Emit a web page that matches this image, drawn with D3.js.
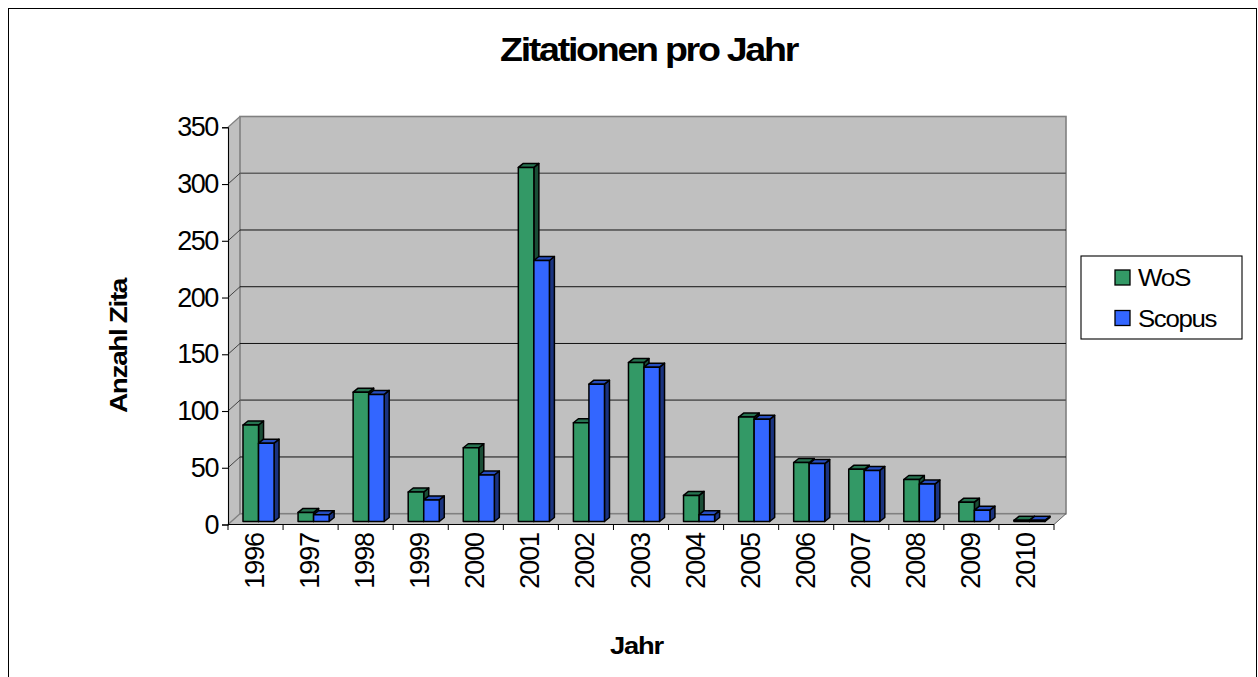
<!DOCTYPE html>
<html><head><meta charset="utf-8">
<style>html,body{margin:0;background:#fff;overflow:hidden}svg{display:block}text{font-family:"Liberation Sans",Arial,sans-serif;fill:#000}</style>
<script src="https://cdn.jsdelivr.net/npm/d3@7/dist/d3.min.js"></script></head>
<body><svg id="c" width="1258" height="677"></svg>
<script>
const years=["1996","1997","1998","1999","2000","2001","2002","2003","2004","2005","2006","2007","2008","2009","2010"];
const wos=[85,8,114,26,65,312,87,140,23,92,52,46,37,17,1];
const scopus=[69,6,112,19,41,230,121,136,6,90,51,45,33,10,1];
const seriesNames=["WoS","Scopus"];
const yTicks=[0,50,100,150,200,250,300,350];
const thickGrid=[100,300];

const svg=d3.select("#c");
const DX=12,DY=-10.8,bx=3,by=-3,bdx=5,bdy=-4;
const x=d3.scaleBand().domain(years).range([228,1054]);
const y=d3.scaleLinear().domain([0,350]).range([524.5,127.3]);
const inner=d3.scaleBand().domain(seriesNames).range([12,x.bandwidth()-12]);
const fills=[{f:"#339966",t:"#267350",s:"#1a4d36"},{f:"#3366ff",t:"#264dbf",s:"#1a3380"}];

svg.append("rect").attr("x",8.5).attr("y",8.5).attr("width",1248).attr("height",690).attr("fill","#fff").attr("stroke","#000").attr("stroke-width",1);

const L=x.range()[0],R=x.range()[1],y0=y(0),yT=y(350);
const poly=p=>p.map(d=>d.join(",")).join(" ");
svg.append("polygon").attr("points",poly([[L,yT],[L+DX,yT+DY],[L+DX,y0+DY],[L,y0]])).attr("fill","#c0c0c0");
svg.append("polygon").attr("points",poly([[L,y0],[L+DX,y0+DY],[R+DX,y0+DY],[R,y0]])).attr("fill","#c0c0c0");
svg.append("rect").attr("x",L+DX).attr("y",yT+DY).attr("width",R-L).attr("height",y0-yT).attr("fill","#c0c0c0").attr("stroke","#808080").attr("stroke-width",1.6);
svg.append("line").attr("x1",L).attr("y1",yT).attr("x2",L+DX).attr("y2",yT+DY).attr("stroke","#808080").attr("stroke-width",1.2);
svg.append("line").attr("x1",L).attr("y1",y0).attr("x2",L+DX).attr("y2",y0+DY).attr("stroke","#808080").attr("stroke-width",1.4);
svg.append("line").attr("x1",R).attr("y1",y0).attr("x2",R+DX).attr("y2",y0+DY).attr("stroke","#404040").attr("stroke-width",.8);
yTicks.filter(v=>v>0&&v<350).forEach(v=>{
  const thick=thickGrid.includes(v);
  svg.append("line").attr("x1",L+DX).attr("x2",R+DX).attr("y1",y(v)+DY).attr("y2",y(v)+DY)
    .attr("stroke",thick?"#606060":"#111").attr("stroke-width",thick?1.7:1);
  svg.append("line").attr("x1",L).attr("x2",L+DX).attr("y1",y(v)).attr("y2",y(v)+DY).attr("stroke","#222").attr("stroke-width",.8);
});
const scale=(y(0)-y(1));
years.forEach((yr,i)=>{
  [wos,scopus].forEach((vals,k)=>{
    const c=fills[k],v=vals[i];
    const X=x(yr)+inner(seriesNames[k])+bx,W=inner.bandwidth(),B=y0+by,T=B-v*scale;
    const g=svg.append("g").attr("stroke","#000").attr("stroke-width",1.5).attr("stroke-linejoin","round");
    g.append("polygon").attr("points",poly([[X+W,T],[X+W+bdx,T+bdy],[X+W+bdx,B+bdy],[X+W,B]])).attr("fill",c.s);
    g.append("polygon").attr("points",poly([[X,T],[X+bdx,T+bdy],[X+W+bdx,T+bdy],[X+W,T]])).attr("fill",c.t);
    g.append("rect").attr("x",X).attr("y",T).attr("width",W).attr("height",B-T).attr("fill",c.f);
  });
});
const yAxis=d3.axisLeft(y).tickValues(yTicks).tickSize(6).tickPadding(4);
const gy=svg.append("g").attr("transform",`translate(${L},0)`).call(yAxis);
gy.selectAll("text").attr("font-size",27).attr("letter-spacing",-1.4).attr("font-family",'"Liberation Sans"').attr("fill","#000");
gy.selectAll("path,line").attr("stroke","#000").attr("stroke-width",1.1);

const xTickPos=[...years.map(d=>x(d)),R];
const axisX=svg.append("g");
axisX.append("line").attr("x1",L).attr("x2",R).attr("y1",y0).attr("y2",y0).attr("stroke","#000").attr("stroke-width",1.1);
axisX.selectAll("line.t").data(xTickPos).join("line").attr("class","t").attr("x1",d=>d).attr("x2",d=>d).attr("y1",y0).attr("y2",y0+5.5).attr("stroke","#000").attr("stroke-width",1);
axisX.selectAll("text").data(years).join("text")
  .attr("transform",d=>`translate(${x(d)+x.bandwidth()/2+8.5},533) rotate(-90)`)
  .attr("text-anchor","end").attr("font-size",27).attr("letter-spacing",-1.1).text(d=>d);

const stretch=(sel,len)=>sel.attr("textLength",len).attr("lengthAdjust","spacingAndGlyphs");
stretch(svg.append("text").attr("x",648.5).attr("y",61).attr("text-anchor","middle").attr("font-size",33).attr("font-weight","bold").attr("letter-spacing",-2).text("Zitationen pro Jahr"),297);
stretch(svg.append("text").attr("transform","translate(126.5,346) rotate(-90)").attr("text-anchor","middle").attr("font-size",24).attr("font-weight","bold").attr("letter-spacing",-1.2).text("Anzahl Zita"),134);
stretch(svg.append("text").attr("x",636.5).attr("y",654).attr("text-anchor","middle").attr("font-size",23).attr("font-weight","bold").attr("letter-spacing",-1).text("Jahr"),53);

const lg=svg.append("g");
lg.append("rect").attr("x",1081).attr("y",256).attr("width",161).attr("height",83).attr("fill","#fff").attr("stroke","#000").attr("stroke-width",1.1);
const ly=d3.scalePoint().domain(seriesNames).range([277.5,318]);
const legendLens=[52,78];
seriesNames.forEach((n,k)=>{
  lg.append("rect").attr("x",1115).attr("y",ly(n)-7.5).attr("width",15).attr("height",15).attr("fill",fills[k].f).attr("stroke","#000").attr("stroke-width",1.3);
  stretch(lg.append("text").attr("x",1138).attr("y",ly(n)+8.5).attr("font-size",23).attr("letter-spacing",-1.2).text(n),legendLens[k]);
});
</script></body></html>
